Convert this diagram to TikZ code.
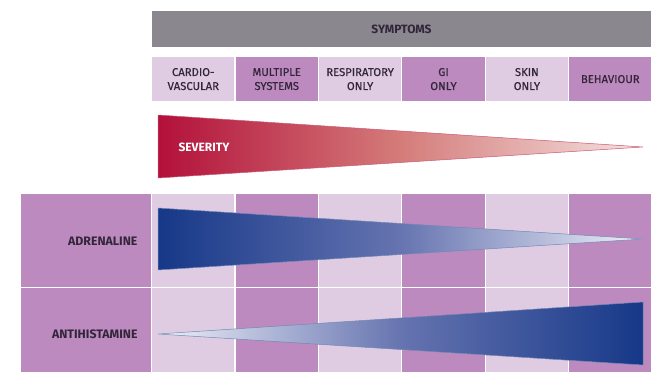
\documentclass[tikz,border=0pt]{standalone}
\usepackage{fontspec}
\setmainfont{Fira Sans}
\newfontfamily\medfont{Fira Sans}[FakeBold=0.4]
\definecolor{darkcell}{HTML}{BC8ABE}
\definecolor{lightcell}{HTML}{E0CCE2}
\definecolor{barcol}{HTML}{8A878E}
\definecolor{txtcol}{HTML}{33263A}
\definecolor{sevdark}{HTML}{B3103A}
\definecolor{sevmid}{HTML}{D47C7A}
\definecolor{sevlight}{HTML}{F4E2E0}
\definecolor{bluedark}{HTML}{163888}
\definecolor{bluemid}{HTML}{6674B0}
\definecolor{bluelight}{HTML}{EEF0F8}
\tikzset{
  cellbox/.style={draw=white, line width=1.2pt, minimum width=83.4pt, inner sep=0pt, anchor=north west, text=txtcol, align=center, font=\medfont\fontsize{11.3}{14}\selectfont},
  lightbox/.style={cellbox, fill=lightcell},
  darkbox/.style={cellbox, fill=darkcell},
  rowlabel/.style={anchor=east, text=txtcol, font=\bfseries\fontsize{12.3}{14}\selectfont}
}
\begin{document}
\begin{tikzpicture}[x=1pt,y=-1pt]
\useasboundingbox (0,0) rectangle (672,372);
% symptoms bar
\node[fill=barcol, draw=white, line width=1pt, minimum width=500pt, minimum height=37pt, inner sep=0pt, anchor=north west, text=txtcol, font=\bfseries\fontsize{12}{13}\selectfont] (symp) at (151,10) {SYMPTOMS};
% header cells
\node[lightbox, minimum height=45pt] (h1) at (151,56) {CARDIO-\\VASCULAR};
\node[darkbox, minimum height=45pt] (h2) at (234.4,56) {MULTIPLE\\SYSTEMS};
\node[lightbox, minimum height=45pt] (h3) at (317.8,56) {RESPIRATORY\\ONLY};
\node[darkbox, minimum height=45pt] (h4) at (401.2,56) {GI\\ONLY};
\node[lightbox, minimum height=45pt] (h5) at (484.6,56) {SKIN\\ONLY};
\node[darkbox, minimum height=45pt] (h6) at (568,56) {BEHAVIOUR};
% severity triangle
\coordinate (s1) at (158,115);
\coordinate (s2) at (158,178);
\coordinate (s3) at (643,147);
\shade[left color=sevdark, right color=sevlight, middle color=sevmid, draw=sevdark!70, line width=0.5pt] (s1) -- (s3) -- (s2) -- cycle;
\node[anchor=west, text=white, font=\bfseries\fontsize{12}{13}\selectfont] (sev) at (175,147) {SEVERITY};
% bottom grid
\foreach \r/\y/\h in {1/193/94, 2/287/86} {
  \node[darkbox, minimum width=131pt, minimum height=\h pt] (l\r) at (20,\y) {};
  \node[lightbox, minimum height=\h pt] (c\r1) at (151,\y) {};
  \node[darkbox, minimum height=\h pt] (c\r2) at (234.4,\y) {};
  \node[lightbox, minimum height=\h pt] (c\r3) at (317.8,\y) {};
  \node[darkbox, minimum height=\h pt] (c\r4) at (401.2,\y) {};
  \node[lightbox, minimum height=\h pt] (c\r5) at (484.6,\y) {};
  \node[darkbox, minimum height=\h pt] (c\r6) at (568,\y) {};
}
\node[rowlabel] (adr) at (141,241) {ADRENALINE};
\node[rowlabel] (anti) at (141,334) {ANTIHISTAMINE};
% adrenaline triangle
\coordinate (a1) at (158,208);
\coordinate (a2) at (158,270);
\coordinate (a3) at (643,239);
\shade[left color=bluedark, right color=bluelight, middle color=bluemid, draw=bluedark!60, line width=0.5pt] (a1) -- (a3) -- (a2) -- cycle;
% antihistamine triangle
\coordinate (b1) at (158,334);
\coordinate (b2) at (643,302);
\coordinate (b3) at (643,365);
\shade[left color=bluelight, right color=bluedark, middle color=bluemid, draw=bluedark!60, line width=0.5pt] (b1) -- (b2) -- (b3) -- cycle;
\end{tikzpicture}
\end{document}
